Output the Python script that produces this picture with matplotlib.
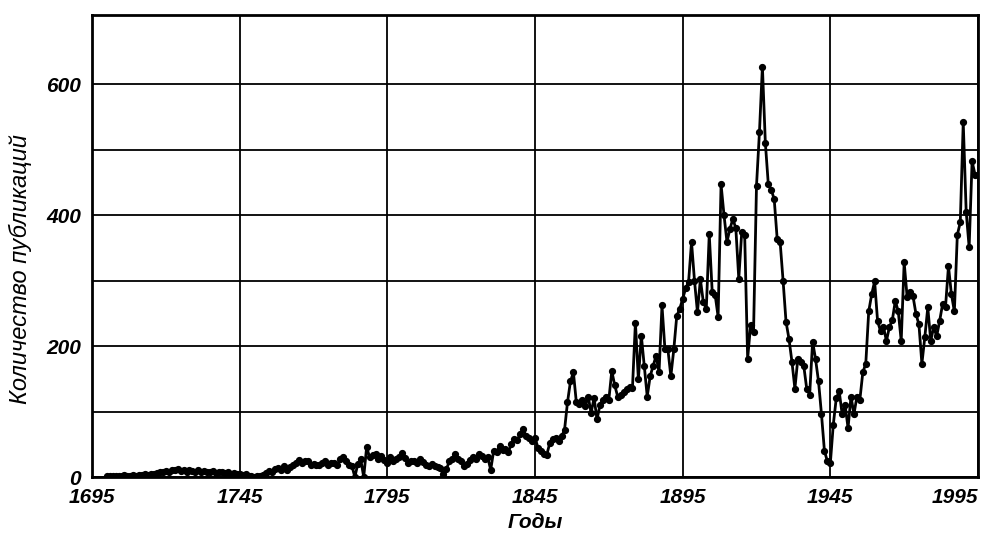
import numpy as np
import matplotlib
matplotlib.use("Agg")
import matplotlib.pyplot as plt

plt.rcParams['font.family'] = ['Liberation Sans', 'DejaVu Sans']

# publications per year (1700-1994)
years = np.arange(1700, 1995)

v1700 = [1, 2, 1, 2, 2, 1, 3, 2, 2, 3,
         2, 3, 3, 4, 3, 5, 4, 6, 7, 8,
         9, 8, 10, 11, 13, 9, 10, 8, 11, 9,
         8, 10, 7, 9, 8, 7, 9, 6, 8, 7,
         6, 7, 5, 6, 4, 5, 3, 4, 2, 1]
v1750 = [0, 2, 1, 3, 6, 9, 8, 12, 14, 10,
         17, 11, 15, 19, 22, 26, 21, 24, 24, 19,
         20, 18, 19, 22, 24, 19, 21, 22, 18, 27,
         30, 24, 19, 17, 0, 20, 27, 0, 46, 30,
         34, 35, 28, 32, 26, 22, 30, 25, 27, 31]
v1800 = [37, 29, 22, 25, 24, 21, 27, 23, 19, 17,
         20, 17, 16, 14, 4, 12, 24, 28, 35, 27,
         24, 17, 20, 26, 30, 28, 35, 32, 27, 30,
         11, 40, 38, 48, 42, 43, 39, 50, 58, 57,
         65, 74, 62, 60, 55, 60, 45, 40, 35, 34]
v1850 = [52, 58, 60, 55, 62, 72, 114, 146, 160, 114,
         112, 118, 108, 123, 98, 121, 88, 110, 118, 123,
         118, 162, 140, 123, 125, 130, 134, 138, 136, 236,
         149, 216, 170, 123, 154, 170, 185, 160, 262, 195,
         195, 154, 195, 246, 257, 272, 288, 298, 359, 300]
v1900 = [252, 302, 267, 257, 371, 283, 278, 245, 447, 400,
         359, 379, 394, 380, 303, 374, 369, 181, 232, 222,
         445, 527, 627, 510, 447, 439, 424, 364, 359, 300,
         237, 211, 176, 135, 181, 176, 170, 135, 126, 207,
         180, 146, 96, 40, 24, 21, 80, 120, 131, 96]
v1950 = [110, 75, 123, 96, 123, 118, 160, 173, 253, 279,
         299, 238, 223, 229, 208, 229, 240, 269, 253, 208,
         328, 275, 282, 276, 249, 233, 173, 214, 259, 208,
         229, 215, 238, 264, 260, 322, 279, 253, 370, 389,
         542, 405, 351, 482, 462]

counts = np.array(v1700 + v1750 + v1800 + v1850 + v1900 + v1950)

xticks = [1695, 1745, 1795, 1845, 1895, 1945, 1995]
ygrid = list(range(0, 601, 100))
ylabels = [0, 200, 400, 600]

fig = plt.figure(figsize=(10, 5.33), dpi=100)
ax = fig.add_axes([0.092, 0.105, 0.886, 0.866])

ax.plot(years, counts, 'k-', lw=2, marker='o', markersize=4.2)

ax.set_xlim(1695, 1995)
ax.set_ylim(0, 705)
ax.set_xticks(xticks)
ax.set_yticks(ygrid)
ax.set_yticklabels([str(v) if v in ylabels else '' for v in ygrid])
ax.grid(True, color='k', lw=1.3)
ax.tick_params(length=0, labelsize=15, pad=8)
for lab in ax.get_xticklabels() + ax.get_yticklabels():
    lab.set_style('italic')
    lab.set_fontweight('bold')
ax.get_xticklabels()[-1].set_horizontalalignment('right')
ax.get_xticklabels()[-1].set_x(1996)
for s in ax.spines.values():
    s.set_linewidth(2)

ax.set_xlabel('Годы', style='italic', fontweight='bold', fontsize=15, labelpad=4)
ax.set_ylabel('Количество публикаций', style='italic', fontsize=17)
ax.yaxis.set_label_coords(-0.068, 0.45)

fig.savefig('out.png', dpi=100)
